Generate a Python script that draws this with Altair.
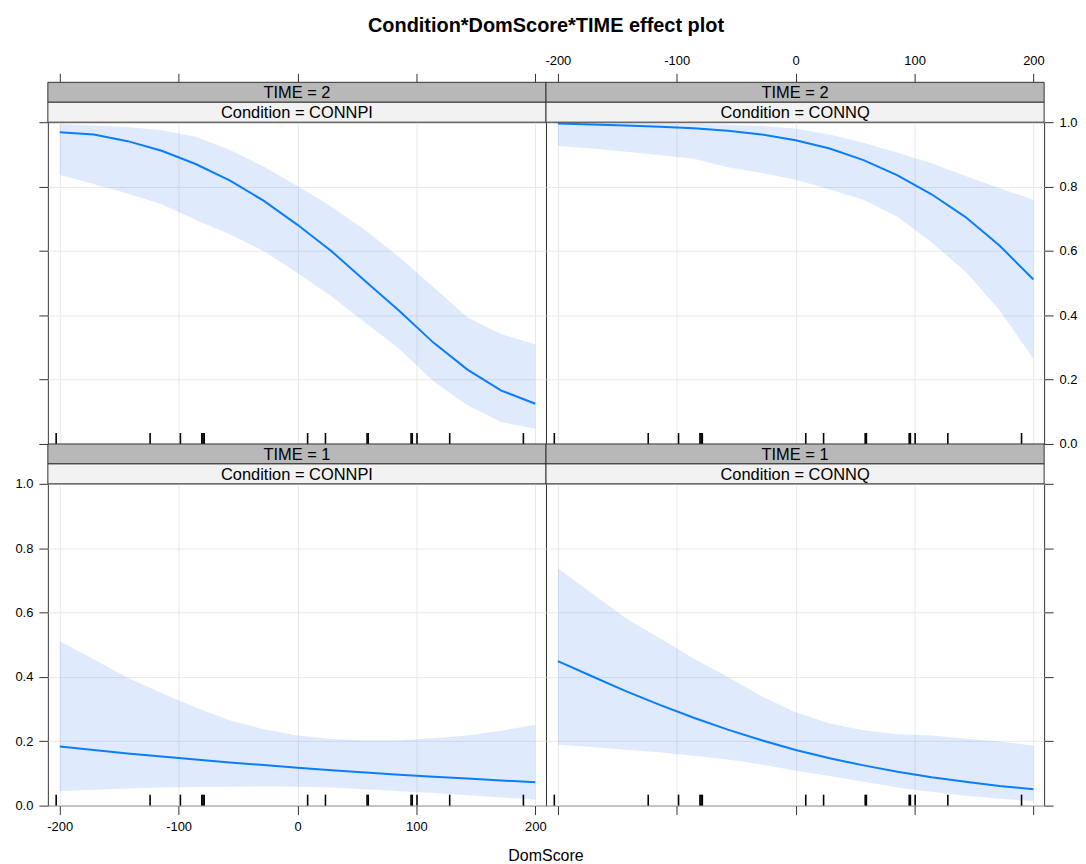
import altair as alt
import pandas as pd

# ---------------- data ----------------
dom_score = [-200.0, -171.4, -142.9, -114.3, -85.7, -57.1, -28.6, 0.0,
             28.6, 57.1, 85.7, 114.3, 142.9, 171.4, 200.0]

fit_t2_connpi = [0.969, 0.962, 0.941, 0.911, 0.870, 0.819, 0.756, 0.681,
                 0.599, 0.506, 0.413, 0.315, 0.231, 0.166, 0.125]
lower_t2_connpi = [0.836, 0.808, 0.778, 0.745, 0.697, 0.652, 0.600, 0.531,
                   0.458, 0.377, 0.295, 0.195, 0.120, 0.068, 0.047]
upper_t2_connpi = [0.994, 0.990, 0.985, 0.975, 0.955, 0.914, 0.862, 0.802,
                   0.737, 0.664, 0.580, 0.488, 0.393, 0.341, 0.310]

fit_t2_connq = [0.996, 0.993, 0.990, 0.986, 0.981, 0.973, 0.962, 0.944,
                0.918, 0.882, 0.835, 0.776, 0.705, 0.617, 0.511]
lower_t2_connq = [0.926, 0.918, 0.908, 0.898, 0.886, 0.860, 0.842, 0.821,
                  0.791, 0.759, 0.705, 0.627, 0.535, 0.416, 0.264]
upper_t2_connq = [0.998, 0.998, 0.997, 0.996, 0.994, 0.992, 0.988, 0.980,
                  0.962, 0.936, 0.905, 0.872, 0.833, 0.795, 0.759]

fit_t1_connpi = [0.184, 0.173, 0.162, 0.153, 0.143, 0.134, 0.126, 0.118,
                 0.110, 0.103, 0.096, 0.090, 0.084, 0.078, 0.073]
lower_t1_connpi = [0.045, 0.049, 0.053, 0.056, 0.058, 0.059, 0.060, 0.059,
                   0.056, 0.051, 0.045, 0.039, 0.032, 0.025, 0.019]
upper_t1_connpi = [0.511, 0.455, 0.397, 0.350, 0.305, 0.265, 0.237, 0.218,
                   0.207, 0.202, 0.203, 0.209, 0.218, 0.233, 0.251]

fit_t1_connq = [0.449, 0.402, 0.356, 0.313, 0.273, 0.236, 0.203, 0.173,
                0.147, 0.125, 0.105, 0.088, 0.074, 0.061, 0.051]
lower_t1_connq = [0.189, 0.182, 0.174, 0.166, 0.155, 0.143, 0.128, 0.108,
                  0.092, 0.074, 0.056, 0.043, 0.031, 0.021, 0.014]
upper_t1_connq = [0.738, 0.660, 0.582, 0.520, 0.457, 0.400, 0.340, 0.290,
                  0.255, 0.234, 0.222, 0.218, 0.208, 0.199, 0.187]

rug_values = [-203, -124, -98.5, -80.5, -79.5, -78.5, 8.5, 23.5, 58.5, 59.5,
              95.5, 96.5, 100.5, 128, 190]

x_ticks = [-200, -100, 0, 100, 200]
y_ticks = [0.0, 0.2, 0.4, 0.6, 0.8, 1.0]

panels = [
    # (TIME, Condition, fit, lower, upper, row, col)
    ("2", "CONNPI", fit_t2_connpi, lower_t2_connpi, upper_t2_connpi, 0, 0),
    ("2", "CONNQ", fit_t2_connq, lower_t2_connq, upper_t2_connq, 0, 1),
    ("1", "CONNPI", fit_t1_connpi, lower_t1_connpi, upper_t1_connpi, 1, 0),
    ("1", "CONNQ", fit_t1_connq, lower_t1_connq, upper_t1_connq, 1, 1),
]

# ---------------- styling ----------------
W, H = 500, 323
STRIP = 20
FONT = "Liberation Sans"
LINE = "#0a7dff"
BAND = "#1f6fe8"
DARK = "#b8b8b8"
LIGHT = "#f2f2f2"
EDGE = "#333333"

rug_df = pd.DataFrame({"DomScore": rug_values})


def panel(t, c, fit, lo, up, row, col):
    sub = pd.DataFrame({"DomScore": dom_score, "fit": fit,
                        "lower": lo, "upper": up})
    xlab = 1 if (row == 0 and col == 1) or (row == 1 and col == 0) else 0
    ylab = 1 if (row == 1 and col == 0) or (row == 0 and col == 1) else 0
    xaxis = alt.Axis(orient="top" if row == 0 else "bottom",
                     offset=2 * STRIP if row == 0 else 0,
                     values=x_ticks, labelExpr="'' + datum.value",
                     grid=True, title=None,
                     labelOpacity=xlab, labelFlush=False)
    yaxis = alt.Axis(orient="left" if col == 0 else "right",
                     values=y_ticks, format=".1f", grid=True, title=None,
                     labelOpacity=ylab)
    xs = alt.Scale(domain=[-210, 209], nice=False, zero=False)
    ys = alt.Scale(domain=[0, 1], nice=False, zero=False)

    band = alt.Chart(sub).mark_area(fill=BAND, opacity=0.14).encode(
        x=alt.X("DomScore:Q", scale=xs, axis=xaxis),
        y=alt.Y("lower:Q", scale=ys, axis=yaxis),
        y2="upper:Q",
    )
    line = alt.Chart(sub).mark_line(color=LINE, strokeWidth=2).encode(
        x=alt.X("DomScore:Q", scale=xs, axis=xaxis),
        y=alt.Y("fit:Q", scale=ys, axis=yaxis),
    )
    rug = alt.Chart(rug_df).mark_rule(color="black", strokeWidth=1.6).encode(
        x=alt.X("DomScore:Q", scale=xs, axis=xaxis),
        y=alt.value(H - 11),
        y2=alt.value(H),
    )
    strip_df = pd.DataFrame({"time_label": [f"TIME = {t}"],
                             "cond_label": [f"Condition = {c}"]})
    s_dark = alt.Chart(strip_df).mark_rect(
        fill=DARK, stroke=EDGE, strokeWidth=1).encode(
        x=alt.value(0), x2=alt.value(W),
        y=alt.value(-2 * STRIP), y2=alt.value(-STRIP))
    s_light = alt.Chart(strip_df).mark_rect(
        fill=LIGHT, stroke=EDGE, strokeWidth=1).encode(
        x=alt.value(0), x2=alt.value(W),
        y=alt.value(-STRIP), y2=alt.value(0))
    t_dark = alt.Chart(strip_df).mark_text(
        font=FONT, fontSize=16.5, color="black", baseline="middle").encode(
        x=alt.value(W / 2), y=alt.value(-1.5 * STRIP + 1),
        text="time_label:N")
    t_light = alt.Chart(strip_df).mark_text(
        font=FONT, fontSize=16.5, color="black", baseline="middle").encode(
        x=alt.value(W / 2), y=alt.value(-0.5 * STRIP + 1),
        text="cond_label:N")
    return alt.layer(band, line, rug, s_dark, s_light, t_dark, t_light).properties(
        width=W, height=H)


charts = [panel(*p) for p in panels]

inner = alt.concat(*charts, columns=2,
                   spacing={"row": 2 * STRIP, "column": 0},
                   bounds="flush").properties(
    title=alt.TitleParams("DomScore", orient="bottom", anchor="middle",
                          font=FONT, fontSize=16, fontWeight="normal",
                          color="black", offset=14))

chart = alt.vconcat(inner, spacing=0).properties(
    title=alt.TitleParams("Condition*DomScore*TIME effect plot",
                          anchor="middle", font=FONT, fontSize=20,
                          fontWeight="bold", color="black", offset=18),
    padding={"left": 6, "top": 6, "right": 0, "bottom": 0},
    background="white",
).configure_view(
    stroke=EDGE, strokeWidth=1
).configure_axis(
    tickSize=9, tickColor=EDGE, tickWidth=1, domain=False,
    labelFont=FONT, labelFontSize=13, labelColor="black", labelPadding=6,
    gridColor="#e9e9e9", gridWidth=1,
)

chart.save("out.html", embed_options={"renderer": "svg", "actions": False})
